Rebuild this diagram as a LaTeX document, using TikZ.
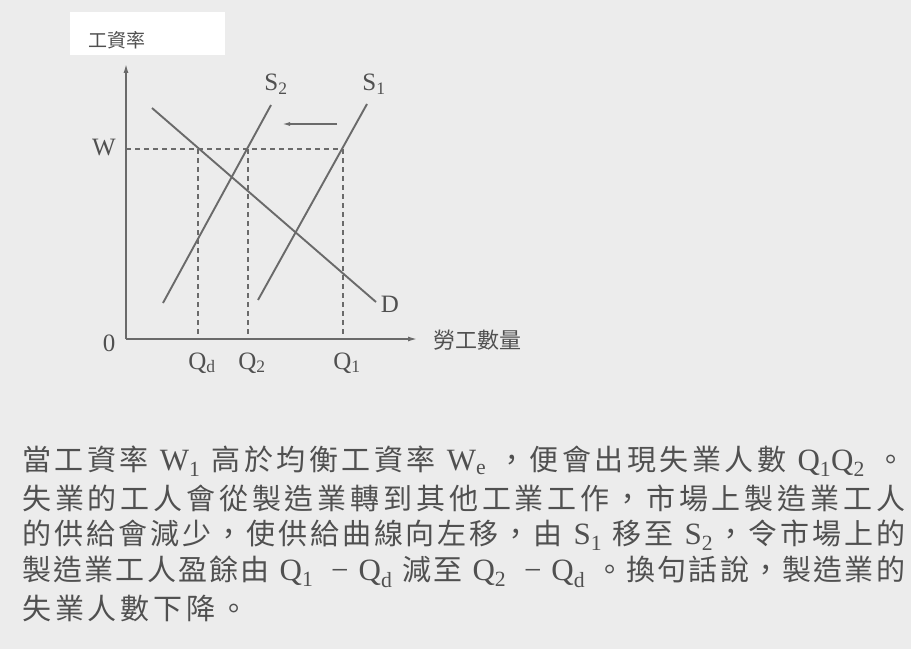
\documentclass[tikz,border=0pt]{standalone}
\usepackage{fontspec}
\setmainfont{Liberation Serif}
\newfontfamily\cjk{Noto Sans CJK TC}[Scale=1]
\usetikzlibrary{arrows.meta}
\definecolor{paper}{HTML}{ECECEC}
\definecolor{ink}{HTML}{505050}
\definecolor{lineink}{HTML}{6A6A6A}
\def\spstop{\spstop}
\def\spr#1{{#1}\sprx}
\def\sprx#1{\ifx\spstop#1\else\hfill{#1}\expandafter\sprx\fi}
\newcommand\sub[1]{\textsubscript{#1}}
\newcommand\lt[1]{{\rmfamily\fontsize{31bp}{34bp}\selectfont\ #1\ }}
\newcommand\ltn[1]{{\rmfamily\fontsize{31bp}{34bp}\selectfont\ #1}}
\tikzset{
  axisline/.style={draw=lineink, line width=1.4bp},
  curve/.style={draw=lineink, line width=1.9bp},
  guide/.style={draw=lineink, line width=1.5bp, dash pattern=on 5bp off 4bp},
  lbl/.style={text=ink, inner sep=0, font=\fontsize{25bp}{28bp}\selectfont},
  cjklbl/.style={text=ink, inner sep=0, font=\cjk\fontsize{20bp}{24bp}\selectfont},
  para/.style={text=ink, inner sep=0, anchor=west, font=\cjk\fontsize{29bp}{34bp}\selectfont},
}
\begin{document}
\begin{tikzpicture}[x=1bp, y=-1bp]
\useasboundingbox (0,0) rectangle (911,649);
\fill[paper] (0,0) rectangle (911,649);
\fill[white] (70,12) rectangle (225,55);
% axes
\coordinate (O) at (126,339);
\coordinate (ytip) at (126,64);
\coordinate (xtip) at (417,339);
\draw[axisline, -{Latex[length=9bp,width=5bp]}] (O) -- (ytip);
\draw[axisline, -{Latex[length=9bp,width=5bp]}] (O) -- (xtip);
% guides
\coordinate (Wl) at (126,149);
\coordinate (Wr) at (343,149);
\coordinate (Qdt) at (198,149); \coordinate (Qdb) at (198,339);
\coordinate (Q2t) at (248,149); \coordinate (Q2b) at (248,339);
\coordinate (Q1t) at (343,149); \coordinate (Q1b) at (343,339);
\draw[guide] (Wl) -- (Wr);
\draw[guide] (Qdt) -- (Qdb);
\draw[guide] (Q2t) -- (Q2b);
\draw[guide] (Q1t) -- (Q1b);
% curves
\coordinate (Dtop) at (152,108); \coordinate (Dbot) at (376,302);
\coordinate (S2b) at (163,303); \coordinate (S2t) at (271,105);
\coordinate (S1b) at (258,300); \coordinate (S1t) at (367,104);
\draw[curve] (Dtop) -- (Dbot);
\draw[curve] (S2b) -- (S2t);
\draw[curve] (S1b) -- (S1t);
\coordinate (shA) at (337,124); \coordinate (shB) at (282,124);
\draw[axisline, -{Latex[length=8bp,width=4bp]}] (shA) -- (shB);
% labels
\node[cjklbl, font=\cjk\fontsize{19bp}{22bp}\selectfont] (ylab) at (117,40) {工資率};
\node[lbl] (Wlab) at (104,148) {W};
\node[lbl] (zero) at (109,343) {0};
\node[lbl] (Qdlab) at (202,363) {Q\sub{d}};
\node[lbl] (Q2lab) at (252,363) {Q\sub{2}};
\node[lbl] (Q1lab) at (347,363) {Q\sub{1}};
\node[lbl] (Dlab) at (390,304) {D};
\node[lbl] (S2lab) at (276,84) {S\sub{2}};
\node[lbl] (S1lab) at (374,84) {S\sub{1}};
\node[cjklbl, anchor=west, font=\cjk\fontsize{22bp}{26bp}\selectfont] (xlab) at (433,340) {勞工數量};
% paragraph
\node[para] (l1) at (22,461) {\makebox[883bp][l]{\spr 當工資率{\lt{W\sub{1}}}高於均衡工資率{\lt{W\sub{e}}}，便會出現失業人數{\lt{Q\sub{1}Q\sub{2}}}。\spstop}};
\node[para] (l2) at (22,498) {\makebox[883bp][l]{\spr 失業的工人會從製造業轉到其他工業工作，市場上製造業工人\spstop}};
\node[para] (l3) at (22,535) {\makebox[883bp][l]{\spr 的供給會減少，使供給曲線向左移，由{\lt{S\sub{1}}}移至{\ltn{S\sub{2}}}，令市場上的\spstop}};
\node[para] (l4) at (22,572) {\makebox[883bp][l]{\spr 製造業工人盈餘由{\lt{Q\sub{1}}}{\ltn{−}}{\lt{Q\sub{d}}}減至{\lt{Q\sub{2}}}{\ltn{−}}{\lt{Q\sub{d}}}。換句話說，製造業的\spstop}};
\node[para] (l5) at (22,608) {\makebox[226bp][l]{\spr 失業人數下降。\spstop}};
\end{tikzpicture}
\end{document}
